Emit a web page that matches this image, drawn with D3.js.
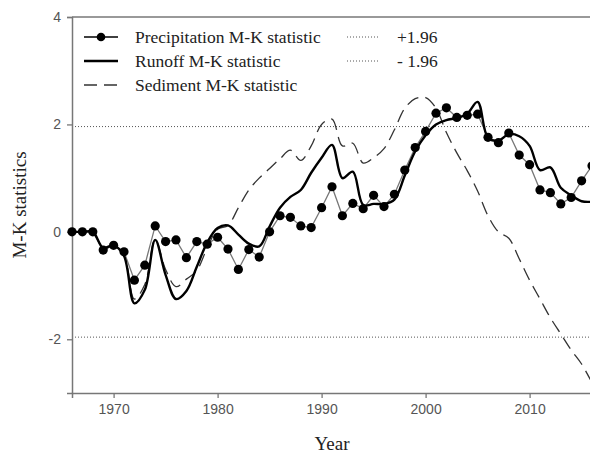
<!DOCTYPE html>
<html>
<head>
<meta charset="utf-8">
<script src="https://cdn.jsdelivr.net/npm/d3@7"></script>
<style>
  body { margin: 0; background: #fff; }
  svg text { user-select: none; }
  .serif { font-family: "Liberation Serif", "Times New Roman", serif; }
</style>
</head>
<body>
<script>
// years 1966..2016
const years = d3.range(1966, 2017);

const precipitation = [0, 0, 0, -0.34, -0.25, -0.37, -0.9, -0.62, 0.11, -0.18,
  -0.15, -0.48, -0.18, -0.23, -0.1, -0.32, -0.7, -0.33, -0.47, 0.0,
  0.3, 0.27, 0.11, 0.08, 0.45, 0.84, 0.3, 0.53, 0.43, 0.68,
  0.47, 0.7, 1.15, 1.57, 1.87, 2.21, 2.31, 2.13, 2.17, 2.19,
  1.76, 1.66, 1.84, 1.43, 1.25, 0.78, 0.73, 0.52, 0.64, 0.95, 1.23];

const runoff = [0, 0, 0, -0.3, -0.25, -0.45, -1.33, -1.08, -0.15, -0.8,
  -1.25, -1.1, -0.65, -0.2, 0.07, 0.12, -0.05, -0.22, -0.27, 0.1,
  0.45, 0.65, 0.78, 1.1, 1.38, 1.62, 1.0, 1.12, 0.5, 0.52,
  0.52, 0.6, 1.05, 1.5, 1.8, 2.0, 2.08, 2.12, 2.2, 2.42,
  1.75, 1.7, 1.82, 1.78, 1.6, 1.15, 1.2, 0.82, 0.68, 0.57, 0.56];

const sediment = [0, 0, 0, -0.3, -0.25, -0.42, -1.25, -0.98, -0.15, -0.7,
  -1.02, -0.88, -0.72, -0.3, 0.05, 0.12, 0.45, 0.78, 1.0, 1.18,
  1.36, 1.52, 1.33, 1.6, 2.0, 2.1, 1.6, 1.65, 1.28, 1.38,
  1.55, 1.9, 2.3, 2.48, 2.5, 2.3, 1.85, 1.47, 1.14, 0.76,
  0.3, 0.0, -0.12, -0.5, -0.9, -1.25, -1.6, -1.9, -2.2, -2.46, -2.81];

const xTicks = [1970, 1980, 1990, 2000, 2010];
const yTicks = [-2, 0, 2, 4];
const critical = [1.96, -1.96];

const W = 590, H = 455;
const margin = { top: 17, right: -2, bottom: 62, left: 72 };

const svg = d3.select("body").append("svg")
  .attr("width", W)
  .attr("height", H);

const x = d3.scaleLinear().domain([1966, 2016]).range([margin.left, W - margin.right]);
const y = d3.scaleLinear().domain([-3, 4]).range([H - margin.bottom, margin.top]);

const axisColor = "#777";
const tickFont = "'Liberation Sans', Arial, sans-serif";

// dotted critical lines
svg.selectAll(".crit")
  .data(critical)
  .enter().append("line")
  .attr("x1", x(1966)).attr("x2", x(2016))
  .attr("y1", d => y(d)).attr("y2", d => y(d))
  .attr("stroke", "#555")
  .attr("stroke-width", 1)
  .attr("stroke-dasharray", "1,2");

// axes
const gx = svg.append("g")
  .attr("transform", `translate(0,${y(-3)})`)
  .call(d3.axisBottom(x).tickValues(xTicks).tickFormat(d3.format("d")).tickSize(5).tickPadding(6));
const gy = svg.append("g")
  .attr("transform", `translate(${x(1966)},0)`)
  .call(d3.axisLeft(y).tickValues(yTicks).tickFormat(d => String(d)).tickSize(5).tickPadding(6));

[gx, gy].forEach(g => {
  g.select(".domain").attr("stroke", axisColor).attr("stroke-width", 1.5);
  g.selectAll(".tick line").attr("stroke", axisColor).attr("stroke-width", 1.3);
  g.selectAll(".tick text").attr("fill", "#555").style("font-family", tickFont).style("font-size", "14px");
});

// top frame line
svg.append("line")
  .attr("x1", x(1966)).attr("x2", x(2016))
  .attr("y1", y(4)).attr("y2", y(4))
  .attr("stroke", axisColor).attr("stroke-width", 1.5);

// series
const pts = arr => years.map((yr, i) => [yr, arr[i]]);
const smooth = d3.line().x(d => x(d[0])).y(d => y(d[1])).curve(d3.curveCatmullRom.alpha(0.5));
const straight = d3.line().x(d => x(d[0])).y(d => y(d[1]));

svg.append("path")
  .attr("d", smooth(pts(sediment)))
  .attr("fill", "none")
  .attr("stroke", "#333")
  .attr("stroke-width", 1.3)
  .attr("stroke-dasharray", "13,7");

svg.append("path")
  .attr("d", straight(pts(precipitation)))
  .attr("fill", "none")
  .attr("stroke", "#777")
  .attr("stroke-width", 1.3);

svg.append("path")
  .attr("d", smooth(pts(runoff)))
  .attr("fill", "none")
  .attr("stroke", "#000")
  .attr("stroke-width", 2.4);

svg.selectAll(".pt")
  .data(pts(precipitation))
  .enter().append("circle")
  .attr("cx", d => x(d[0]))
  .attr("cy", d => y(d[1]))
  .attr("r", 4.6)
  .attr("fill", "#000");

// legend
const leg = svg.append("g");
const rows = [37, 61, 85];
const legItems = [
  { label: "Precipitation M-K statistic", stroke: "#000", width: 1.3, dash: null, marker: true },
  { label: "Runoff M-K statistic", stroke: "#000", width: 2.4, dash: null, marker: false },
  { label: "Sediment M-K statistic", stroke: "#333", width: 1.3, dash: "13,7", marker: false }
];
legItems.forEach((d, i) => {
  leg.append("line")
    .attr("x1", 84).attr("x2", 118)
    .attr("y1", rows[i]).attr("y2", rows[i])
    .attr("stroke", d.stroke).attr("stroke-width", d.width)
    .attr("stroke-dasharray", d.dash);
  if (d.marker) leg.append("circle").attr("cx", 101).attr("cy", rows[i]).attr("r", 4.3).attr("fill", "#000");
  leg.append("text").attr("class", "serif").attr("x", 135).attr("y", rows[i] + 6)
    .style("font-size", "17.5px").attr("fill", "#222").text(d.label);
});
["+1.96", "- 1.96"].forEach((t, i) => {
  leg.append("line")
    .attr("x1", 347).attr("x2", 380)
    .attr("y1", rows[i]).attr("y2", rows[i])
    .attr("stroke", "#555").attr("stroke-width", 1)
    .attr("stroke-dasharray", "1,2");
  leg.append("text").attr("class", "serif").attr("x", 397).attr("y", rows[i] + 6)
    .style("font-size", "17.5px").attr("fill", "#222").text(t);
});

// axis titles
svg.append("text")
  .attr("class", "serif")
  .attr("transform", `translate(26,${(y(4) + y(-3)) / 2}) rotate(-90)`)
  .attr("text-anchor", "middle")
  .style("font-size", "19px").attr("fill", "#222")
  .text("M-K statistics");
svg.append("text")
  .attr("class", "serif")
  .attr("x", 332).attr("y", 450)
  .attr("text-anchor", "middle")
  .style("font-size", "19px").attr("fill", "#222")
  .text("Year");
</script>
</body>
</html>
